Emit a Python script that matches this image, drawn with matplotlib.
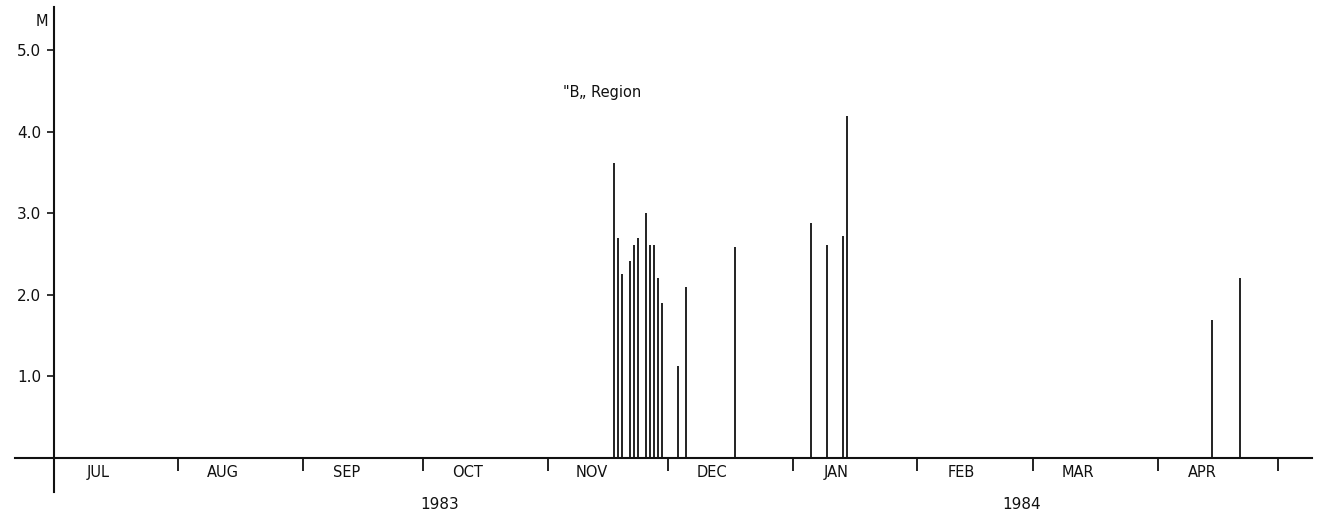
import datetime as dt
import pandas as pd
import matplotlib
matplotlib.use("Agg")
import matplotlib.pyplot as plt
import matplotlib.dates as mdates
from matplotlib.ticker import FuncFormatter, NullFormatter

# observation days and values (M), "B" region, 1983-84
dates = ["1983-11-17", "1983-11-18", "1983-11-19", "1983-11-21", "1983-11-22",
         "1983-11-23", "1983-11-25", "1983-11-26", "1983-11-27", "1983-11-28",
         "1983-11-29", "1983-12-03", "1983-12-05", "1983-12-17", "1984-01-05",
         "1984-01-09", "1984-01-13", "1984-01-14", "1984-04-14", "1984-04-21"]
values = [3.62, 2.70, 2.25, 2.41, 2.61,
          2.70, 3.00, 2.61, 2.61, 2.21,
          1.90, 1.12, 2.10, 2.59, 2.88,
          2.61, 2.72, 4.19, 1.69, 2.21]
yticks = [1.0, 2.0, 3.0, 4.0, 5.0]
years = ["1983", "1984"]
year_pos = [dt.datetime(1983, 10, 5), dt.datetime(1984, 2, 27)]

ink = "#111111"
plt.rcParams["font.family"] = "DejaVu Sans"

x = pd.to_datetime(dates) + pd.Timedelta(hours=14)

fig = plt.figure(figsize=(13.21, 5.15), dpi=100)
ax = fig.add_axes([15 / 1321, 23 / 515, 1297 / 1321, 485 / 515])

ax.vlines(x, 0, values, color=ink, linewidth=1.3)

ax.set_xlim(dt.datetime(1983, 6, 21, 7), dt.datetime(1984, 5, 9, 10))
ax.set_ylim(-0.42, 5.53)

for s in ["top", "right"]:
    ax.spines[s].set_visible(False)
ax.spines["left"].set_position(("data", mdates.date2num(dt.datetime(1983, 7, 1))))
ax.spines["bottom"].set_position(("data", 0))
for s in ["left", "bottom"]:
    ax.spines[s].set_linewidth(1.5)
    ax.spines[s].set_color(ink)

ax.set_yticks(yticks)
ax.set_yticklabels([f"{v:.1f}" for v in yticks])
ax.tick_params(axis="y", direction="out", length=5, width=1.2, pad=4,
               labelsize=11, colors=ink)

ax.xaxis.set_major_locator(mdates.MonthLocator(bymonthday=1))
ax.xaxis.set_major_formatter(NullFormatter())
ax.xaxis.set_minor_locator(mdates.MonthLocator(bymonthday=12))
ax.xaxis.set_minor_formatter(FuncFormatter(lambda v, p: mdates.num2date(v).strftime("%b").upper()))
ax.tick_params(axis="x", which="major", direction="out", length=9, width=1.3, colors=ink)
ax.tick_params(axis="x", which="minor", length=0, pad=5, labelsize=10.5, colors=ink)

for yr, xp in zip(years, year_pos):
    ax.text(xp, -0.577, yr, ha="center", va="center", fontsize=11, color=ink)

ax.text(dt.datetime(1983, 11, 14, 12), 4.48, "\"B\u201e Region", ha="center", va="center",
        fontsize=10.5, color=ink)
fig.text(42 / 1321, 1 - 21 / 515, "M", ha="center", va="center", fontsize=10.5, color=ink)

fig.savefig("out.png", dpi=100, facecolor="white")
